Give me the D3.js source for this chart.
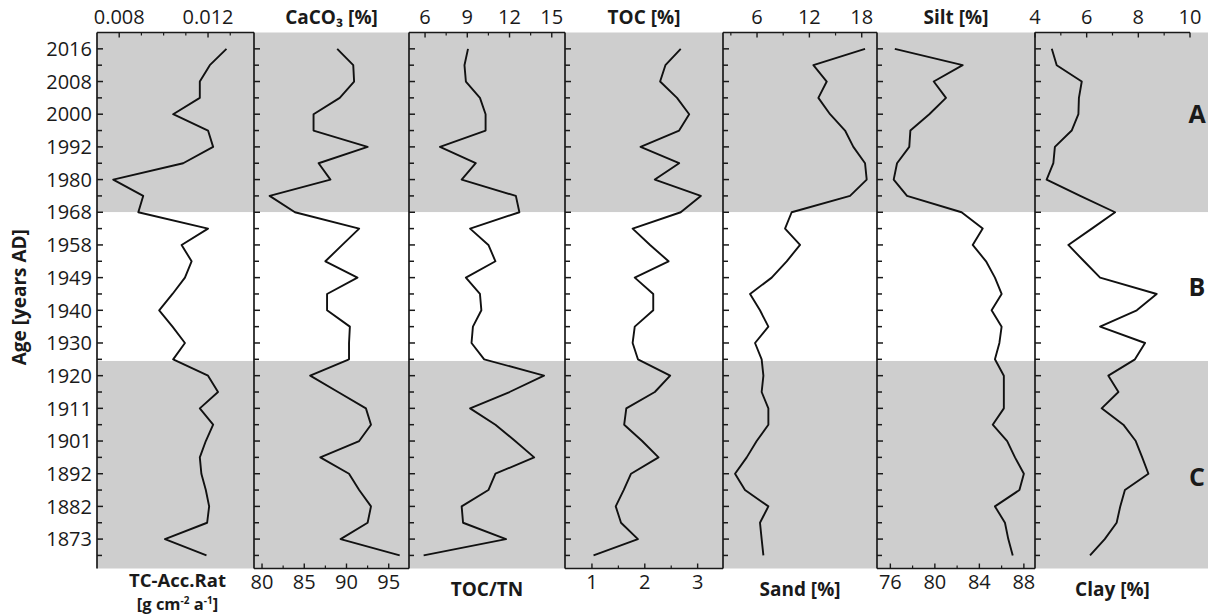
<!DOCTYPE html>
<html>
<head>
<meta charset="utf-8">
<script src="https://cdn.jsdelivr.net/npm/d3@7/dist/d3.min.js"></script>
<style>
  html, body { margin: 0; padding: 0; background: #fff; }
  svg { display: block; }
  text { font-family: "Open Sans", "DejaVu Sans", sans-serif; fill: #1a1a1a; }
</style>
</head>
<body>
<svg id="chart" width="1208" height="614"></svg>
<script>
// ---------------- DATA ----------------
const ageLabels = ["2016","2008","2000","1992","1980","1968","1958","1949",
                   "1940","1930","1920","1911","1901","1892","1882","1873"];
// sample positions (in age-tick units, 0 = 2016 tick, 15 = 1873 tick)
const samplePos = [0,0.5,1,1.5,2,2.5,3,3.5,4,4.5,5,5.5,6,6.5,7,7.5,
                   8,8.5,9,9.5,10,10.5,11,11.5,12,12.5,13,13.5,14,14.5,15,15.5];

const tcAcc = [0.01283,0.01208,0.01163,0.01163,0.01043,0.01200,0.01223,0.01088,
               0.00773,0.00908,0.00886,0.01200,0.01081,0.01126,0.01096,0.01040,
               0.00980,0.01040,0.01096,0.01043,0.01200,0.01245,0.01163,0.01223,
               0.01190,0.01163,0.01170,0.01190,0.01205,0.01196,0.01006,0.01193];
const caco3 = [88.9,90.8,90.9,89.2,86.1,86.1,92.5,86.7,88.1,80.9,83.9,91.5,
               89.5,87.5,91.3,87.7,87.7,90.4,90.3,90.3,85.7,89.0,92.3,92.9,
               91.5,86.9,90.3,91.5,92.9,92.5,89.3,96.3];
const tocTn = [9.05,8.8,8.9,9.9,10.3,10.3,7.06,9.6,8.6,12.45,12.7,9.2,
               10.5,11.0,8.9,9.9,10.0,9.4,9.3,10.2,14.45,12.0,9.2,11.0,
               12.4,13.75,11.0,10.5,8.6,8.7,11.75,5.9];
const toc = [2.68,2.39,2.29,2.61,2.84,2.65,1.92,2.65,2.19,3.06,2.68,1.77,
             2.10,2.45,1.81,2.16,2.16,1.81,1.77,1.87,2.48,2.19,1.65,1.61,
             1.95,2.26,1.74,1.60,1.45,1.55,1.87,1.03];
const sand = [18.38,12.46,13.99,13.03,14.37,16.09,17.04,18.38,18.57,16.66,9.97,9.21,
              10.93,9.4,7.68,5.20,6.34,7.30,5.77,6.53,6.73,6.53,7.30,7.30,
              5.96,4.82,3.48,4.62,7.30,6.34,6.53,6.73];
const silt = [76.4,82.5,79.9,81.0,79.5,77.8,77.7,76.6,76.3,77.5,82.4,84.3,
              83.4,84.6,85.4,86.0,85.1,86.0,85.8,85.4,86.2,86.2,86.2,85.2,
              86.5,87.2,88.0,87.6,85.4,86.3,86.6,87.0];
const clay = [4.65,4.84,5.81,5.70,5.68,5.42,4.77,4.71,4.45,5.75,7.10,6.20,
              5.29,5.90,6.52,8.71,7.94,6.52,8.26,7.87,6.84,7.23,6.58,7.42,
              7.90,8.15,8.39,7.48,7.30,7.16,6.70,6.13];

const zoneNames = ["A","B","C"];
const zoneFrom  = [-0.5, 5, 9.55];
const zoneTo    = [5, 9.55, 15.9];
const zoneLabelPos = [2, 7.3, 13.1];

// ---------------- LAYOUT ----------------
const svg = d3.select("#chart");
const plotTop = 32.5, plotBottom = 568.5;
const edges = [97, 254, 409, 565, 723, 877, 1035, 1190];
const y = d3.scaleLinear().domain([-0.5, 15.9]).range([plotTop, plotBottom]);

const panels = [
  {data: tcAcc, domain:[0.0070,0.01407], ticks:[0.008,0.012], minor:[0.009,0.010,0.011,0.013], fmt: d3.format(".3f"), side:"top",
   title:null},
  {data: caco3, domain:[79.05,97.4], ticks:[80,85,90,95], minor:[82.5,87.5,92.5], fmt: d3.format("d"), side:"bottom",
   title:"CaCO₃ [%]"},
  {data: tocTn, domain:[4.86,15.94], ticks:[6,9,12,15], minor:[7.5,10.5,13.5], fmt: d3.format("d"), side:"top",
   title:"TOC/TN"},
  {data: toc, domain:[0.49,3.48], ticks:[1,2,3], minor:[1.5,2.5], fmt: d3.format("d"), side:"bottom",
   title:"TOC [%]"},
  {data: sand, domain:[2.1,19.75], ticks:[6,12,18], minor:[3,9,15], fmt: d3.format("d"), side:"top",
   title:"Sand [%]"},
  {data: silt, domain:[74.8,89.0], ticks:[76,80,84,88], minor:[78,82,86], fmt: d3.format("d"), side:"bottom",
   title:"Silt [%]"},
  {data: clay, domain:[4,10], ticks:[4,6,8,10], minor:[5,7,9], fmt: d3.format("d"), side:"top",
   title:"Clay [%]"}
];

// background zones
const bg = svg.append("g");
zoneNames.forEach((z, i) => {
  bg.append("rect")
    .attr("x", edges[0]).attr("width", 1208 - edges[0])
    .attr("y", y(zoneFrom[i])).attr("height", y(zoneTo[i]) - y(zoneFrom[i]))
    .attr("fill", i === 1 ? "#ffffff" : "#cecece");
  svg.append("text")
    .attr("x", 1197).attr("y", y(zoneLabelPos[i]))
    .attr("dy", "0.36em")
    .attr("text-anchor", "middle")
    .attr("font-size", 25).attr("font-weight", "bold")
    .text(z);
});

const axisColor = "#1a1a1a";
const line = d3.line();
const tickFont = 20, titleFont = 19;

panels.forEach((p, i) => {
  const x0 = edges[i], x1 = edges[i + 1];
  const x = d3.scaleLinear().domain(p.domain).range([x0, x1]);
  const g = svg.append("g");

  // left vertical axis with inward ticks
  g.append("line").attr("x1", x0).attr("x2", x0).attr("y1", plotTop).attr("y2", plotBottom)
    .attr("stroke", axisColor).attr("stroke-width", 1.7);
  samplePos.forEach(s => {
    const major = Number.isInteger(s);
    g.append("line").attr("x1", x0).attr("x2", x0 + (major ? 6 : 5))
      .attr("y1", y(s)).attr("y2", y(s))
      .attr("stroke", axisColor).attr("stroke-width", 1.5);
  });

  // x axis (top or bottom)
  const ay = p.side === "top" ? plotTop : plotBottom;
  const dir = p.side === "top" ? 1 : -1;
  g.append("line").attr("x1", x0).attr("x2", x1).attr("y1", ay).attr("y2", ay)
    .attr("stroke", axisColor).attr("stroke-width", 1.7);
  p.ticks.forEach(t => {
    g.append("line").attr("x1", x(t)).attr("x2", x(t)).attr("y1", ay).attr("y2", ay + dir * 5)
      .attr("stroke", axisColor).attr("stroke-width", 1.4);
    g.append("text").attr("x", x(t)).attr("y", p.side === "top" ? 24 : 589)
      .attr("text-anchor", "middle").attr("font-size", tickFont).text(p.fmt(t));
  });
  p.minor.forEach(t => {
    g.append("line").attr("x1", x(t)).attr("x2", x(t)).attr("y1", ay).attr("y2", ay + dir * 3)
      .attr("stroke", axisColor).attr("stroke-width", 1.2);
  });

  // title on the opposite side
  if (p.title) {
    g.append("text").attr("x", (x0 + x1) / 2)
      .attr("y", p.side === "top" ? 596 : 24)
      .attr("text-anchor", "middle").attr("font-size", titleFont).attr("font-weight", "bold")
      .text(p.title);
  }

  // data line
  const pts = samplePos.map((s, k) => [x(p.data[k]), y(s)]);
  g.append("path").attr("d", line(pts)).attr("fill", "none")
    .attr("stroke", "#111").attr("stroke-width", 1.9).attr("stroke-linejoin", "round");
});

// y tick labels
ageLabels.forEach((lab, k) => {
  svg.append("text").attr("x", 92).attr("y", y(samplePos[k * 2]))
    .attr("dy", "0.36em").attr("text-anchor", "end").attr("font-size", tickFont).text(lab);
});

// y title
svg.append("text")
  .attr("transform", `translate(26, ${y(7.6)}) rotate(-90)`)
  .attr("text-anchor", "middle").attr("font-size", titleFont).attr("font-weight", "bold")
  .text("Age [years AD]");

// TC-Acc title (two lines)
const cx = (edges[0] + edges[1]) / 2 + 2;
svg.append("text").attr("x", cx).attr("y", 587)
  .attr("text-anchor", "middle").attr("font-size", 18.5).attr("font-weight", "bold")
  .text("TC-Acc.Rat");
const l2 = svg.append("text").attr("x", cx).attr("y", 610)
  .attr("text-anchor", "middle").attr("font-size", 16.5).attr("font-weight", "bold");
l2.append("tspan").text("[g cm");
l2.append("tspan").attr("font-size", 10).attr("dy", -6).text("-2");
l2.append("tspan").attr("dy", 6).text(" a");
l2.append("tspan").attr("font-size", 10).attr("dy", -6).text("-1");
l2.append("tspan").attr("dy", 6).text("]");
</script>
</body>
</html>
